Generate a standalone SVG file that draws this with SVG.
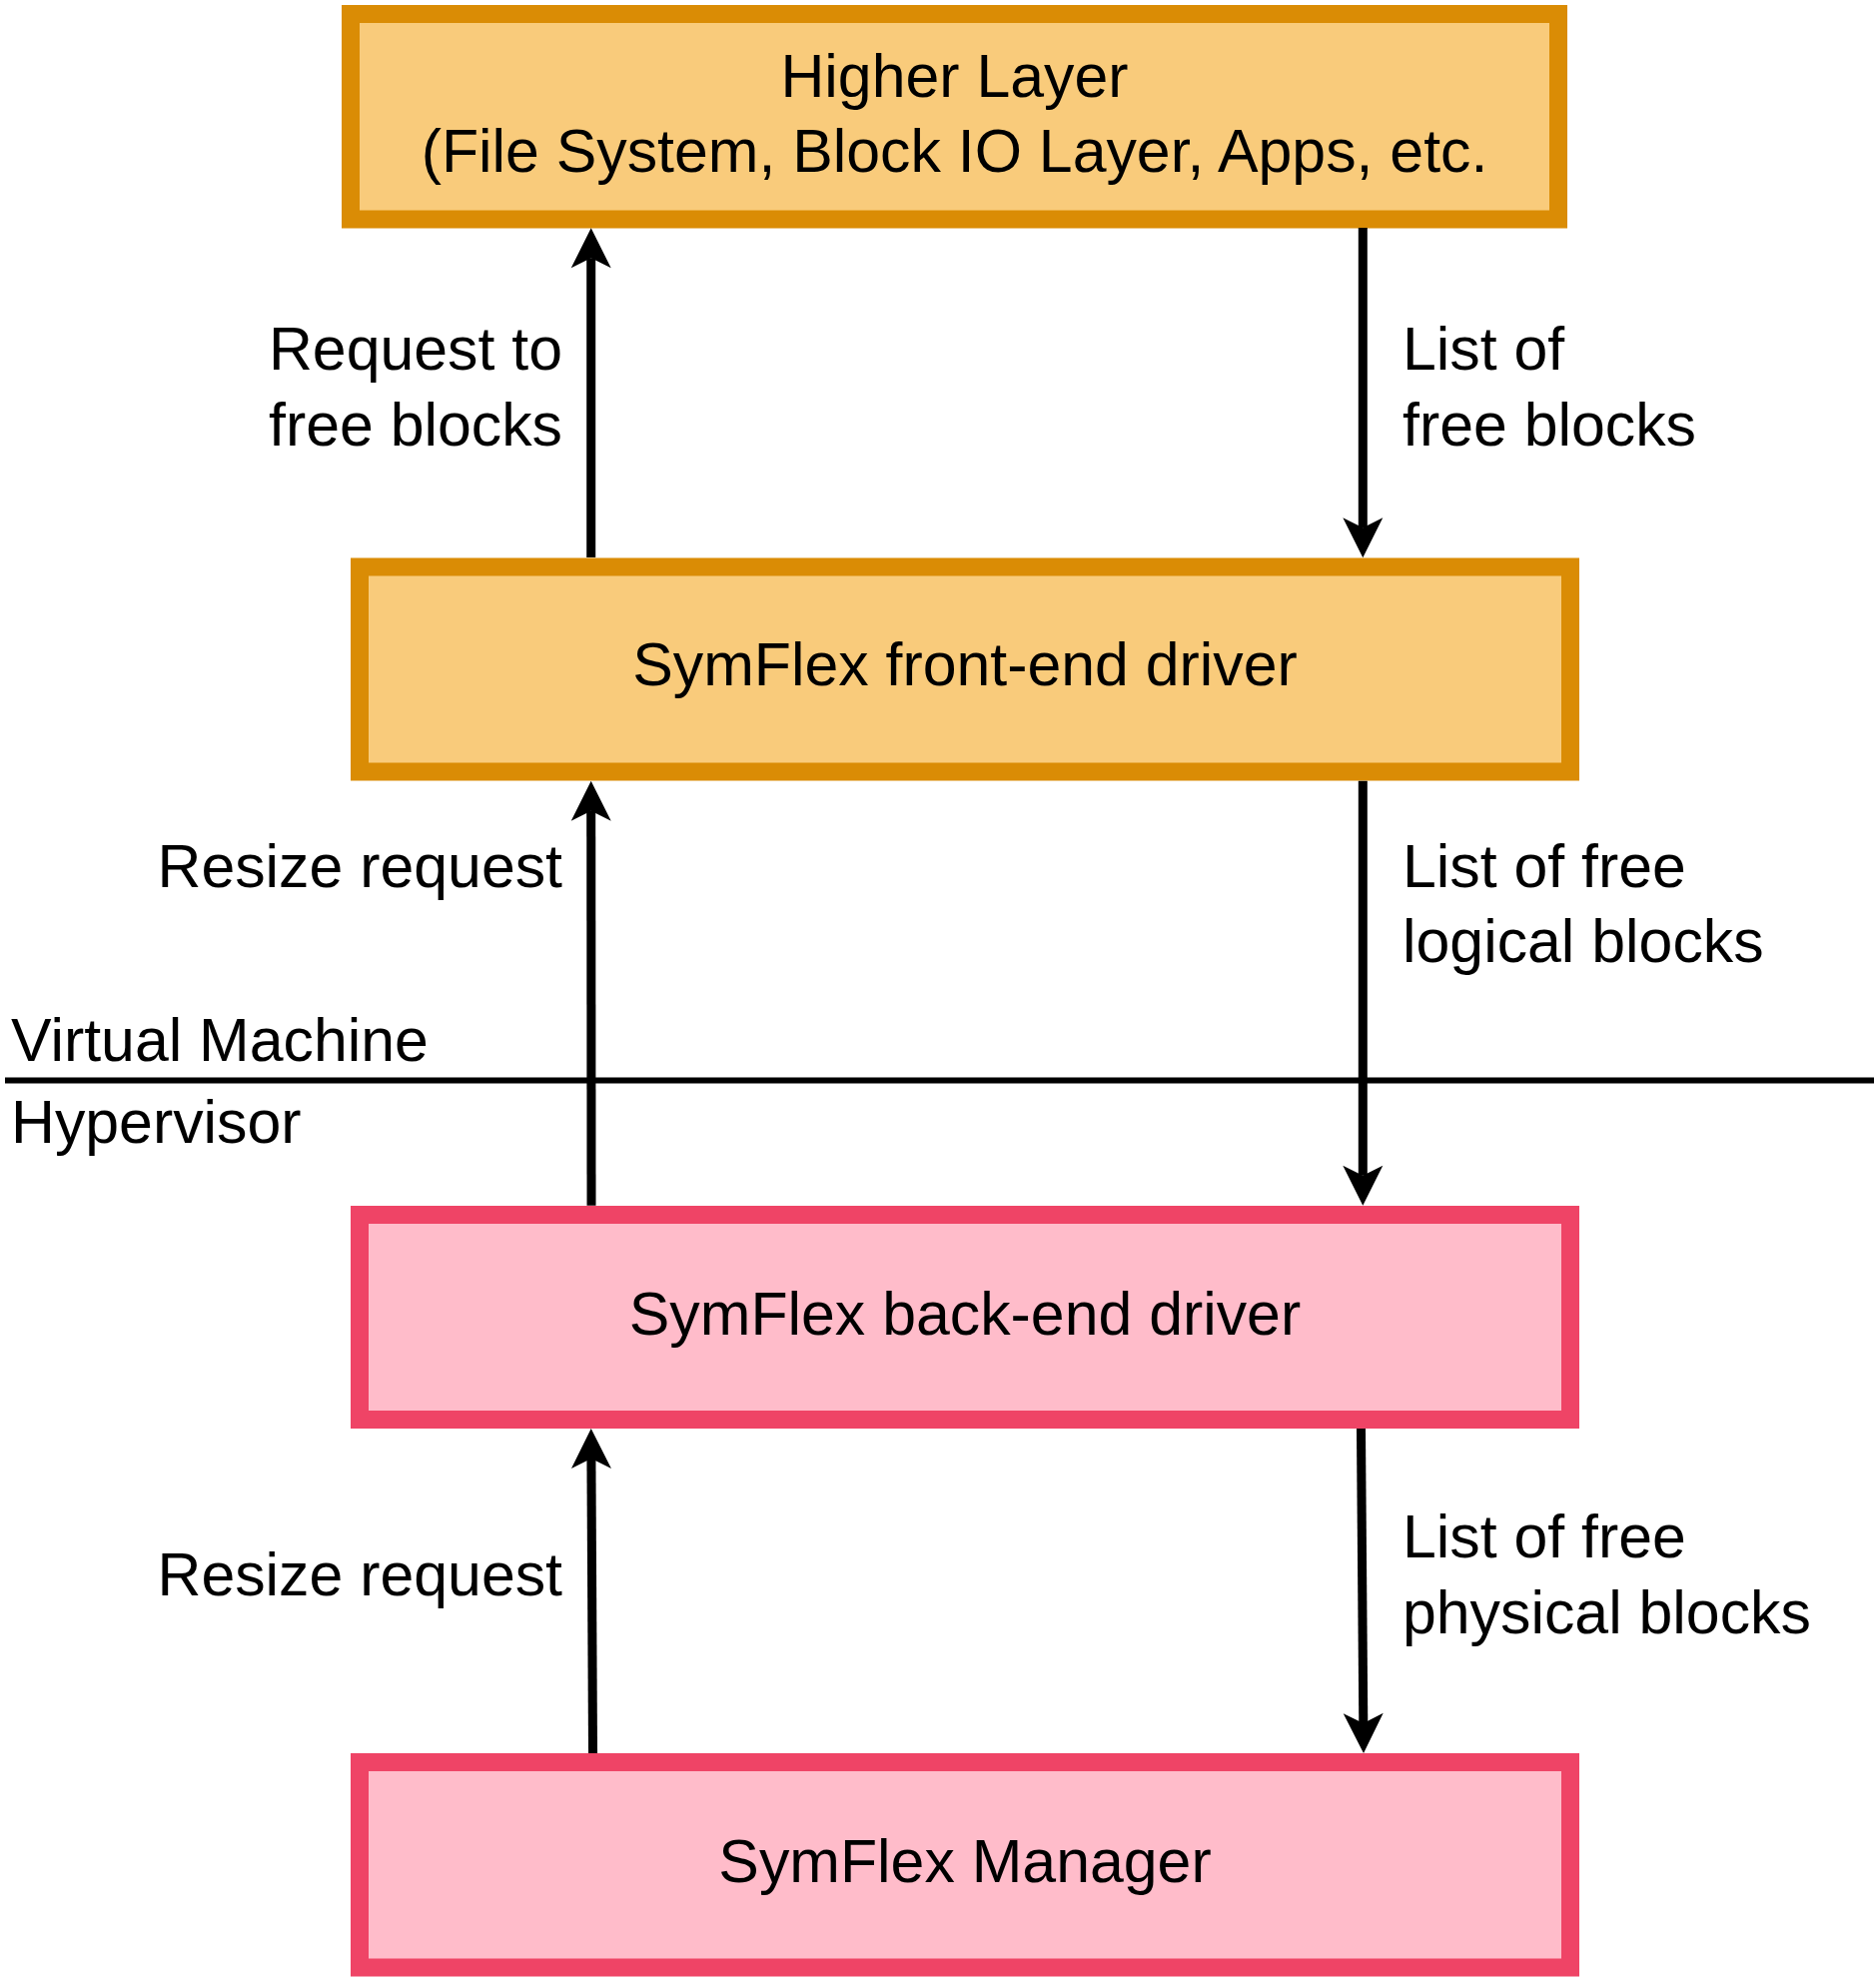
<svg xmlns="http://www.w3.org/2000/svg" width="1878" height="1985" viewBox="0 0 1878 1985">
<style>
.txt{font-family:"Liberation Sans",Arial,Helvetica,sans-serif;font-size:60.8px;fill:#000}
.mid{text-anchor:middle}
.end{text-anchor:end}
.vm{fill:#F9CB7B;stroke:#DA8C05;stroke-width:18}
.hv{fill:#FFBCCA;stroke:#EF4466;stroke-width:18}
.conn{fill:none;stroke:#000;stroke-width:9}
</style>
<defs>
<marker id="arr" markerUnits="userSpaceOnUse" viewBox="-42 -22 44 44" markerWidth="44" markerHeight="44" refX="-30" refY="0" orient="auto">
<path d="M0,0 L-40,-20 L-30,0 L-40,20 Z" fill="#000"/>
</marker>
</defs>
<rect width="1878" height="1985" fill="#fff"/>
<g id="separator">
<line x1="5" y1="1081.5" x2="1876" y2="1081.5" stroke="#000" stroke-width="6"/>
<text class="txt" x="11" y="1062">Virtual Machine</text>
<text class="txt" x="11" y="1144">Hypervisor</text>
</g>
<g id="higher-layer">
<rect class="vm" x="351" y="14" width="1209" height="205.5"/>
<text class="txt mid" x="955.5" y="97">Higher Layer</text>
<text class="txt mid" x="955.5" y="172">(File System, Block IO Layer, Apps, etc.</text>
</g>
<g id="front-end">
<rect class="vm" x="360" y="567.5" width="1212" height="205"/>
<text class="txt mid" x="966" y="686">SymFlex front-end driver</text>
</g>
<g id="back-end">
<rect class="hv" x="360" y="1216" width="1212" height="205"/>
<text class="txt mid" x="966" y="1336">SymFlex back-end driver</text>
</g>
<g id="manager">
<rect class="hv" x="360" y="1764" width="1212" height="205.5"/>
<text class="txt mid" x="966" y="1884">SymFlex Manager</text>
</g>
<g id="connectors">
<path class="conn" d="M591.7,558 L591.7,258.3" marker-end="url(#arr)"/>
<path class="conn" d="M1364.3,228 L1364.3,528.3" marker-end="url(#arr)"/>
<path class="conn" d="M592,1206.7 L591.7,811.7" marker-end="url(#arr)"/>
<path class="conn" d="M1364.3,781.7 L1364.3,1176.7" marker-end="url(#arr)"/>
<path class="conn" d="M593.5,1755 L591.9,1460" marker-end="url(#arr)"/>
<path class="conn" d="M1362.5,1430 L1364.8,1725" marker-end="url(#arr)"/>
</g>
<g id="labels">
<text class="txt end" x="563" y="370">Request to</text>
<text class="txt end" x="563" y="446">free blocks</text>
<text class="txt" x="1404" y="370">List of</text>
<text class="txt" x="1404" y="446">free blocks</text>
<text class="txt end" x="563" y="888">Resize request</text>
<text class="txt" x="1404" y="888">List of free</text>
<text class="txt" x="1404" y="963">logical blocks</text>
<text class="txt end" x="563" y="1597">Resize request</text>
<text class="txt" x="1404" y="1559">List of free</text>
<text class="txt" x="1404" y="1635">physical blocks</text>
</g>
</svg>
